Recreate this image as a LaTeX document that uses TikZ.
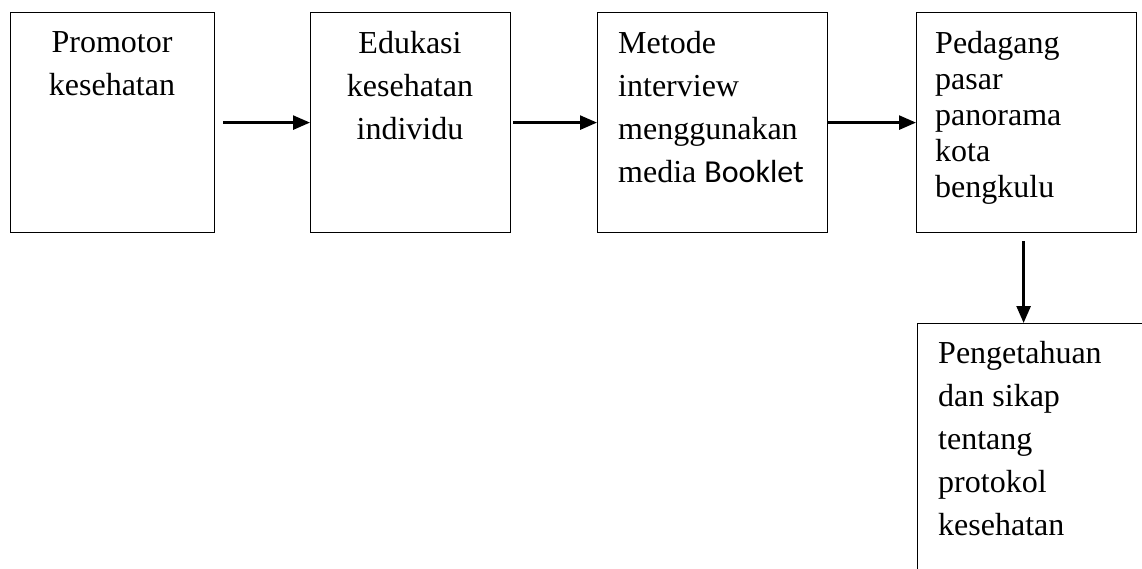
\documentclass[tikz,border=0pt]{standalone}
\usepackage{fontspec}
\setmainfont{Liberation Serif}
\newfontfamily\calibri{Carlito}
\usetikzlibrary{arrows.meta}
\begin{document}
\begin{tikzpicture}[x=1pt,y=-1pt,
  box/.style={draw,line width=1.2pt,inner sep=0pt,anchor=north west},
  txt/.style={inner sep=0pt,font=\fontsize{32}{43}\selectfont},
  arr/.style={line width=2.6pt,-{Triangle[length=17pt,width=14pt]}}]
\useasboundingbox (0,0) rectangle (1142,569);
\node[box,minimum width=204pt,minimum height=220pt] (b1) at (10,12) {};
\node[box,minimum width=200pt,minimum height=220pt] (b2) at (310,12) {};
\node[box,minimum width=230pt,minimum height=220pt] (b3) at (597,12) {};
\node[box,minimum width=220pt,minimum height=220pt] (b4) at (916,12) {};
\node[box,minimum width=260pt,minimum height=280pt] (b5) at (917,323) {};
\node[txt,align=center,anchor=north] (t1) at (112,31) {Promotor\\kesehatan};
\node[txt,align=center,anchor=north] (t2) at (410,31) {Edukasi\\kesehatan\\individu};
\node[txt,align=left,anchor=north west] (t3) at (618,31) {Metode\\interview\\menggunakan\\media {\calibri Booklet}};
\node[txt,align=left,anchor=north west,font=\fontsize{32}{36}\selectfont] (t4) at (935,31) {Pedagang\\pasar\\panorama\\kota\\bengkulu};
\node[txt,align=left,anchor=north west] (t5) at (938,341) {Pengetahuan\\dan sikap\\tentang\\protokol\\kesehatan};
\draw[arr] ([xshift=8pt]b1.east) -- (b1.east -| b2.west);
\draw[arr] ([xshift=2pt]b2.east) -- (b2.east -| b3.west);
\draw[arr] (b3.east) -- (b3.east -| b4.west);
\draw[arr] ([xshift=-3pt,yshift=-8pt]b4.south) -- ([xshift=-3pt]b4.south |- b5.north);
\end{tikzpicture}
\end{document}
